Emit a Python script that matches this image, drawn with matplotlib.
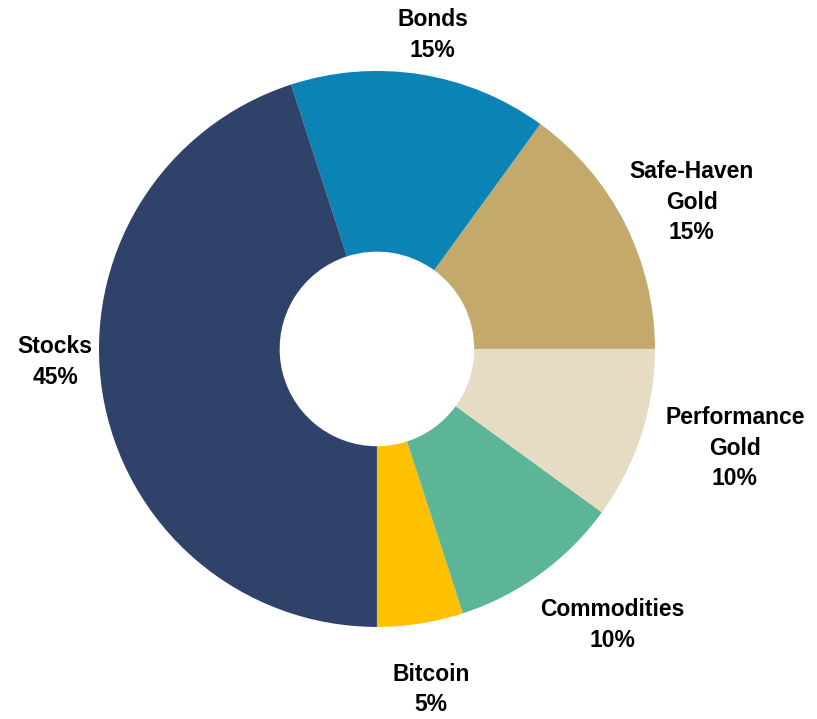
import numpy as np
import matplotlib.pyplot as plt

# portfolio allocation, counter-clockwise from 3 o'clock
labels = ['Safe-Haven\nGold', 'Bonds', 'Stocks', 'Bitcoin', 'Commodities', 'Performance\nGold']
shares = [15, 15, 45, 5, 10, 10]
colors = ['#C3A96C', '#0B84B5', '#2F426A', '#FFC000', '#5BB596', '#E6DCC3']

# label placement: radius (in pie radii) and angular nudge from the wedge middle
label_dist = [1.25, 1.147, 1.159, 1.24, 1.306, 1.336]
label_nudge = [-2.0, -1.1, -6.7, 0.0, 4.5, 2.5]

plt.rcParams['font.family'] = ['Liberation Sans', 'DejaVu Sans']

fig = plt.figure(figsize=(8.17, 7.19), dpi=100)
ax = fig.add_axes([0, 0, 1, 1])

wedges, _ = ax.pie(shares, colors=colors, startangle=0, counterclock=True,
                   radius=1.0, wedgeprops=dict(width=0.65, linewidth=0))

total = sum(shares)
start = 0
for lab, val, d, nudge in zip(labels, shares, label_dist, label_nudge):
    mid = np.deg2rad(start + val / total * 360 / 2 + nudge)
    start += val / total * 360
    ax.text(d * np.cos(mid), d * np.sin(mid), f'{lab}\n{val}%',
            ha='center', va='center', fontsize=16.5, fontweight='bold',
            linespacing=1.42, color='black')

ax.set_xlim(-1.356, 1.583)
ax.set_ylim(-1.331, 1.255)
ax.set_aspect('equal')
ax.axis('off')

fig.savefig('out.png', dpi=100)
